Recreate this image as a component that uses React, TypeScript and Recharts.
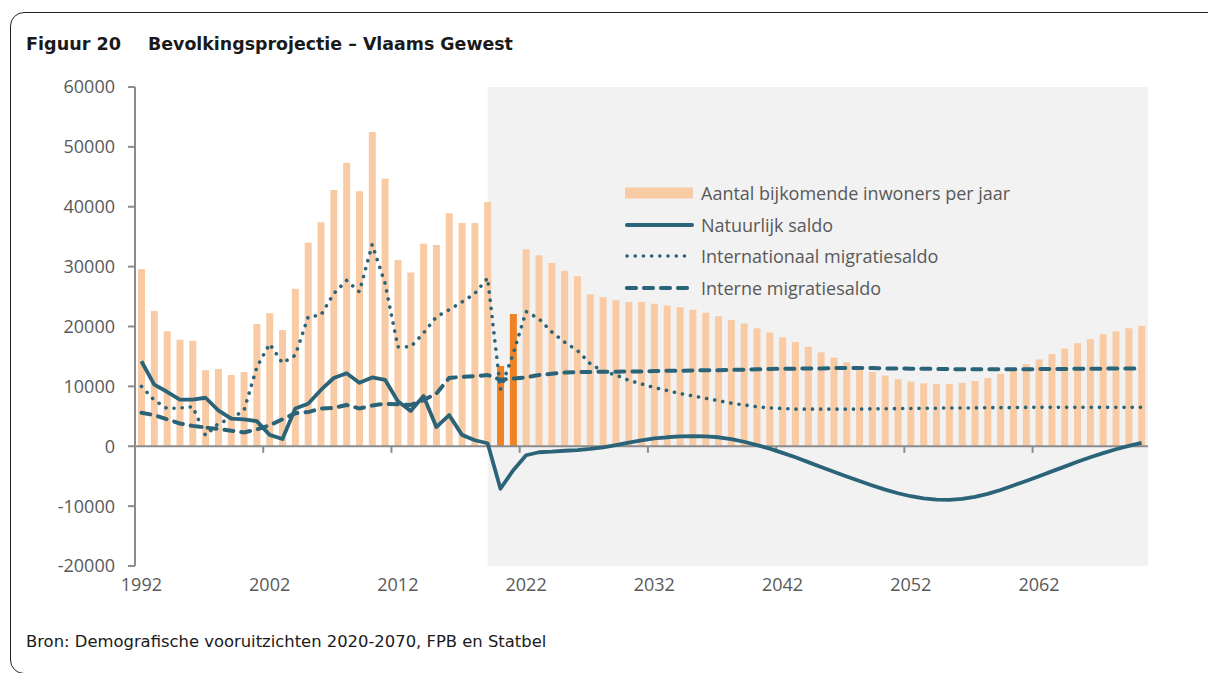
import React from 'react';
import { ComposedChart, Bar, Line, XAxis, YAxis, ReferenceArea, ReferenceLine, Cell } from 'recharts';

// years 1992 - 2070, one value per year
const firstYear = 1992;
const lastYear = 2070;
const years = Array.from({ length: lastYear - firstYear + 1 }, (_, i) => firstYear + i);

const newResidents = [
  29600, 22600, 19200, 17800, 17600, 12700, 12900, 11900, 12400, 20400,
  22200, 19400, 26300, 34000, 37400, 42800, 47300, 42600, 52500, 44700,
  31100, 29000, 33800, 33600, 38900, 37300, 37300, 40800, 13400, 22100,
  32900, 31900, 30600, 29300, 28400, 25400, 24900, 24400, 24100, 24100,
  23800, 23500, 23200, 22800, 22300, 21700, 21100, 20500, 19700, 19000,
  18200, 17400, 16600, 15700, 14800, 14000, 13200, 12400, 11800, 11200,
  10800, 10500, 10400, 10400, 10600, 10900, 11400, 12100, 12800, 13700,
  14500, 15400, 16300, 17200, 17900, 18700, 19200, 19700, 20100,
];

const naturalBalance = [
  14200, 10300, 9100, 7800, 7800, 8100, 6000, 4600, 4500, 4200,
  1900, 1200, 6300, 7100, 9400, 11400, 12200, 10600, 11500, 11100,
  7500, 5900, 8400, 3200, 5200, 1900, 1000, 500, -7100, -4000,
  -1500, -1000, -900, -750, -650, -450, -200, 200, 600, 1000,
  1300, 1500, 1650, 1700, 1650, 1500, 1200, 750, 200, -400,
  -1100, -1850, -2650, -3450, -4250, -5050, -5800, -6550, -7250, -7850,
  -8350, -8700, -8900, -8950, -8800, -8450, -7950, -7300, -6550, -5800,
  -5000, -4200, -3400, -2600, -1850, -1150, -500, 50, 550,
];

const internationalMigration = [
  10000, 7700, 6300, 6400, 6600, 1800, 3800, 4600, 6000, 13200,
  17100, 13900, 15200, 21600, 21900, 25500, 27700, 25800, 33700, 27200,
  16600, 16600, 18900, 21600, 22800, 24100, 25500, 28100, 9500, 15500,
  22500, 21300, 19100, 17400, 16000, 13800, 12500, 11900, 11000, 10400,
  9800, 9300, 8800, 8400, 8000, 7600, 7200, 6900, 6600, 6400,
  6300, 6200, 6200, 6200, 6200, 6200, 6200, 6250, 6250, 6300,
  6300, 6350, 6350, 6400, 6400, 6400, 6450, 6450, 6450, 6500,
  6500, 6500, 6500, 6500, 6500, 6500, 6500, 6500, 6500,
];

const internalMigration = [
  5600, 5200, 4500, 3800, 3400, 3100, 2900, 2600, 2300, 2800,
  3500, 4500, 5500, 5700, 6300, 6400, 6900, 6300, 6800, 7100,
  7000, 6900, 7700, 8800, 11400, 11600, 11700, 11900, 11100, 11300,
  11500, 11900, 12100, 12300, 12400, 12400, 12450, 12450, 12500, 12500,
  12550, 12600, 12600, 12650, 12700, 12700, 12750, 12800, 12850, 12900,
  12950, 12950, 13000, 13000, 13050, 13050, 13050, 13050, 13000, 13000,
  12950, 12950, 12900, 12900, 12850, 12850, 12850, 12850, 12850, 12850,
  12900, 12900, 12900, 12950, 12950, 12950, 13000, 13000, 13000,
];

const highlightYears = [2020, 2021];
const projectionStart = 2019;
const xTicks = [1992, 2002, 2012, 2022, 2032, 2042, 2052, 2062];
const yTicks = [-20000, -10000, 0, 10000, 20000, 30000, 40000, 50000, 60000];

const data = years.map((year, i) => ({
  year,
  residents: newResidents[i],
  natural: naturalBalance[i],
  international: internationalMigration[i],
  internal: internalMigration[i],
}));

const LIGHT = '#F9CBA4';
const DARK = '#F08226';
const TEAL = '#2B6478';
const AXIS = '#8C8C8C';
const TEXT = '#595959';

const legendItems = [
  { label: 'Aantal bijkomende inwoners per jaar', kind: 'bar' },
  { label: 'Natuurlijk saldo', kind: 'solid' },
  { label: 'Internationaal migratiesaldo', kind: 'dotted' },
  { label: 'Interne migratiesaldo', kind: 'dashed' },
];

// legend sits inside the plot, drawn as plain html on top of the chart
const LegendBox = () => (
  <div style={{ fontFamily: 'Open Sans', fontSize: 18, color: TEXT }}>
    {legendItems.map((item) => (
      <div key={item.label} style={{ display: 'flex', alignItems: 'center', height: 31.7 }}>
        <svg width={72} height={14} style={{ marginRight: 4 }}>
          {item.kind === 'bar' && <rect x={0} y={1.5} width={68} height={11} fill={LIGHT} />}
          {item.kind === 'solid' && <line x1={2} y1={7} x2={67} y2={7} stroke={TEAL} strokeWidth={4} strokeLinecap="round" />}
          {item.kind === 'dotted' && (
            <line x1={2} y1={7} x2={67} y2={7} stroke={TEAL} strokeWidth={3.6} strokeLinecap="round" strokeDasharray="0.1 8.1" />
          )}
          {item.kind === 'dashed' && (
            <line x1={2} y1={7} x2={67} y2={7} stroke={TEAL} strokeWidth={4.2} strokeLinecap="round" strokeDasharray="9 8" />
          )}
        </svg>
        <span>{item.label}</span>
      </div>
    ))}
  </div>
);

export default function App() {
  return (
    <div style={{ position: 'fixed', left: 0, top: 0, width: 1208, height: 673, overflow: 'hidden', background: '#fff' }}>
      <div
        style={{
          position: 'absolute', left: 10, top: 12, width: 1240, height: 660,
          border: '1.5px solid #222', borderRadius: 14,
        }}
      />
      <div style={{ position: 'absolute', left: 26, top: 34, fontFamily: 'DejaVu Sans', fontWeight: 'bold', fontSize: 17.6, color: '#1a1a1a', whiteSpace: 'nowrap' }}>
        Figuur 20
      </div>
      <div style={{ position: 'absolute', left: 148, top: 34, fontFamily: 'DejaVu Sans', fontWeight: 'bold', fontSize: 17.4, color: '#1a1a1a', whiteSpace: 'nowrap' }}>
        Bevolkingsprojectie – Vlaams Gewest
      </div>
      <div style={{ position: 'absolute', left: 26, top: 632, fontFamily: 'DejaVu Sans', fontSize: 16.4, color: '#1a1a1a', whiteSpace: 'nowrap' }}>
        Bron: Demografische vooruitzichten 2020-2070, FPB en Statbel
      </div>
      <div style={{ position: 'absolute', left: 0, top: 0 }}>
        <ComposedChart
          width={1208}
          height={673}
          data={data}
          margin={{ top: 87, right: 60, bottom: 77, left: 0 }}
          style={{ fontFamily: 'Open Sans' }}
        >
          <ReferenceArea x1={projectionStart} x2={lastYear + 0.5} y1={-20000} y2={60000} fill="#F2F2F2" fillOpacity={1} stroke="none" />
          <XAxis
            type="number"
            dataKey="year"
            domain={[firstYear - 0.5, lastYear + 0.5]}
            ticks={xTicks}
            axisLine={false}
            tickLine={false}
            tickMargin={6}
            height={30}
            tick={{ fill: TEXT, fontSize: 18, fontFamily: 'Open Sans' }}
          />
          <YAxis
            domain={[-20000, 60000]}
            ticks={yTicks}
            width={135}
            axisLine={{ stroke: AXIS, strokeWidth: 2 }}
            tickLine={{ stroke: AXIS, strokeWidth: 2 }}
            tickSize={7}
            tickMargin={13}
            tick={{ fill: TEXT, fontSize: 18, fontFamily: 'Open Sans' }}
          />
          <Bar dataKey="residents" barSize={7} isAnimationActive={false}>
            {data.map((d) => (
              <Cell key={d.year} fill={highlightYears.includes(d.year) ? DARK : LIGHT} />
            ))}
          </Bar>
          <ReferenceLine y={0} stroke={AXIS} strokeWidth={2} />
          {xTicks.slice(1).map((t) => (
            <ReferenceLine
              key={t}
              segment={[{ x: t - 0.5, y: 0 }, { x: t - 0.5, y: -1100 }]}
              stroke={AXIS}
              strokeWidth={2}
              ifOverflow="visible"
            />
          ))}
          <Line dataKey="internal" stroke={TEAL} strokeWidth={4} strokeDasharray="9 8" strokeLinecap="round" dot={false} isAnimationActive={false} />
          <Line dataKey="international" stroke={TEAL} strokeWidth={3.6} strokeDasharray="0.1 8.1" strokeLinecap="round" dot={false} isAnimationActive={false} />
          <Line dataKey="natural" stroke={TEAL} strokeWidth={3.8} strokeLinejoin="round" dot={false} isAnimationActive={false} />
        </ComposedChart>
      </div>
      <div style={{ position: 'absolute', left: 625, top: 177 }}>
        <LegendBox />
      </div>
    </div>
  );
}
